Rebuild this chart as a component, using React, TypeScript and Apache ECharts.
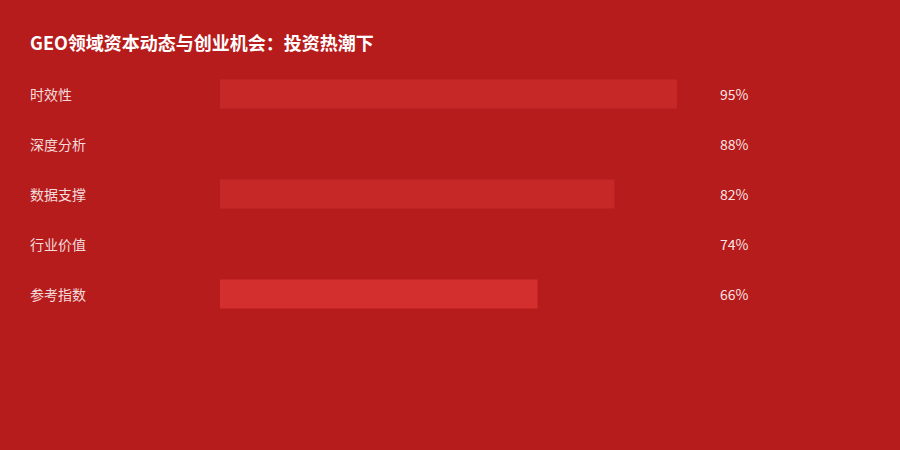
import { useEffect, useRef } from 'react';
import * as echarts from 'echarts';
import type { EChartsOption } from 'echarts';

const categories = ['时效性', '深度分析', '数据支撑', '行业价值', '参考指数'];
const values = [95, 88, 82, 74, 66];
const barColors = ['#C62828', '#B71C1C', '#C62828', '#B71C1C', '#D32F2F'];

const font = '"Noto Sans CJK SC", "Noto Sans", sans-serif';

export default function App() {
  const chartRef = useRef<HTMLDivElement>(null);

  useEffect(() => {
    if (!chartRef.current) return;
    const chart = echarts.init(chartRef.current, undefined, { renderer: 'svg' });

    const option: EChartsOption = {
      animation: false,
      backgroundColor: '#B71C1C',
      title: {
        text: 'GEO领域资本动态与创业机会：投资热潮下',
        left: 30,
        top: 33,
        padding: 0,
        textStyle: {
          color: '#ffffff',
          fontSize: 18,
          fontWeight: 'bold',
          fontFamily: font,
        },
      },
      grid: {
        left: 220,
        right: 199,
        top: 69,
        bottom: 131,
        containLabel: false,
      },
      xAxis: {
        type: 'value',
        min: 0,
        max: 100,
        show: false,
      },
      yAxis: [
        {
          type: 'category',
          inverse: true,
          data: categories,
          axisLine: { show: false },
          axisTick: { show: false },
          splitLine: { show: false },
          axisLabel: {
            align: 'left',
            margin: 190,
            color: 'rgba(255, 255, 255, 0.85)',
            fontSize: 14,
            fontFamily: font,
          },
        },
        {
          type: 'category',
          inverse: true,
          position: 'right',
          data: values.map(v => `${v}%`),
          axisLine: { show: false },
          axisTick: { show: false },
          splitLine: { show: false },
          axisLabel: {
            align: 'left',
            margin: 19,
            color: 'rgba(255, 255, 255, 0.9)',
            fontSize: 14,
            fontFamily: font,
          },
        },
      ],
      series: [
        {
          type: 'bar',
          data: values.map((v, i) => ({
            value: v,
            itemStyle: { color: barColors[i] },
          })),
          barWidth: 29,
          silent: true,
        },
      ],
    };

    chart.setOption(option);

    return () => {
      chart.dispose();
    };
  }, []);

  return (
    <div
      ref={chartRef}
      style={{ position: 'fixed', left: 0, top: 0, width: 900, height: 450 }}
    />
  );
}
